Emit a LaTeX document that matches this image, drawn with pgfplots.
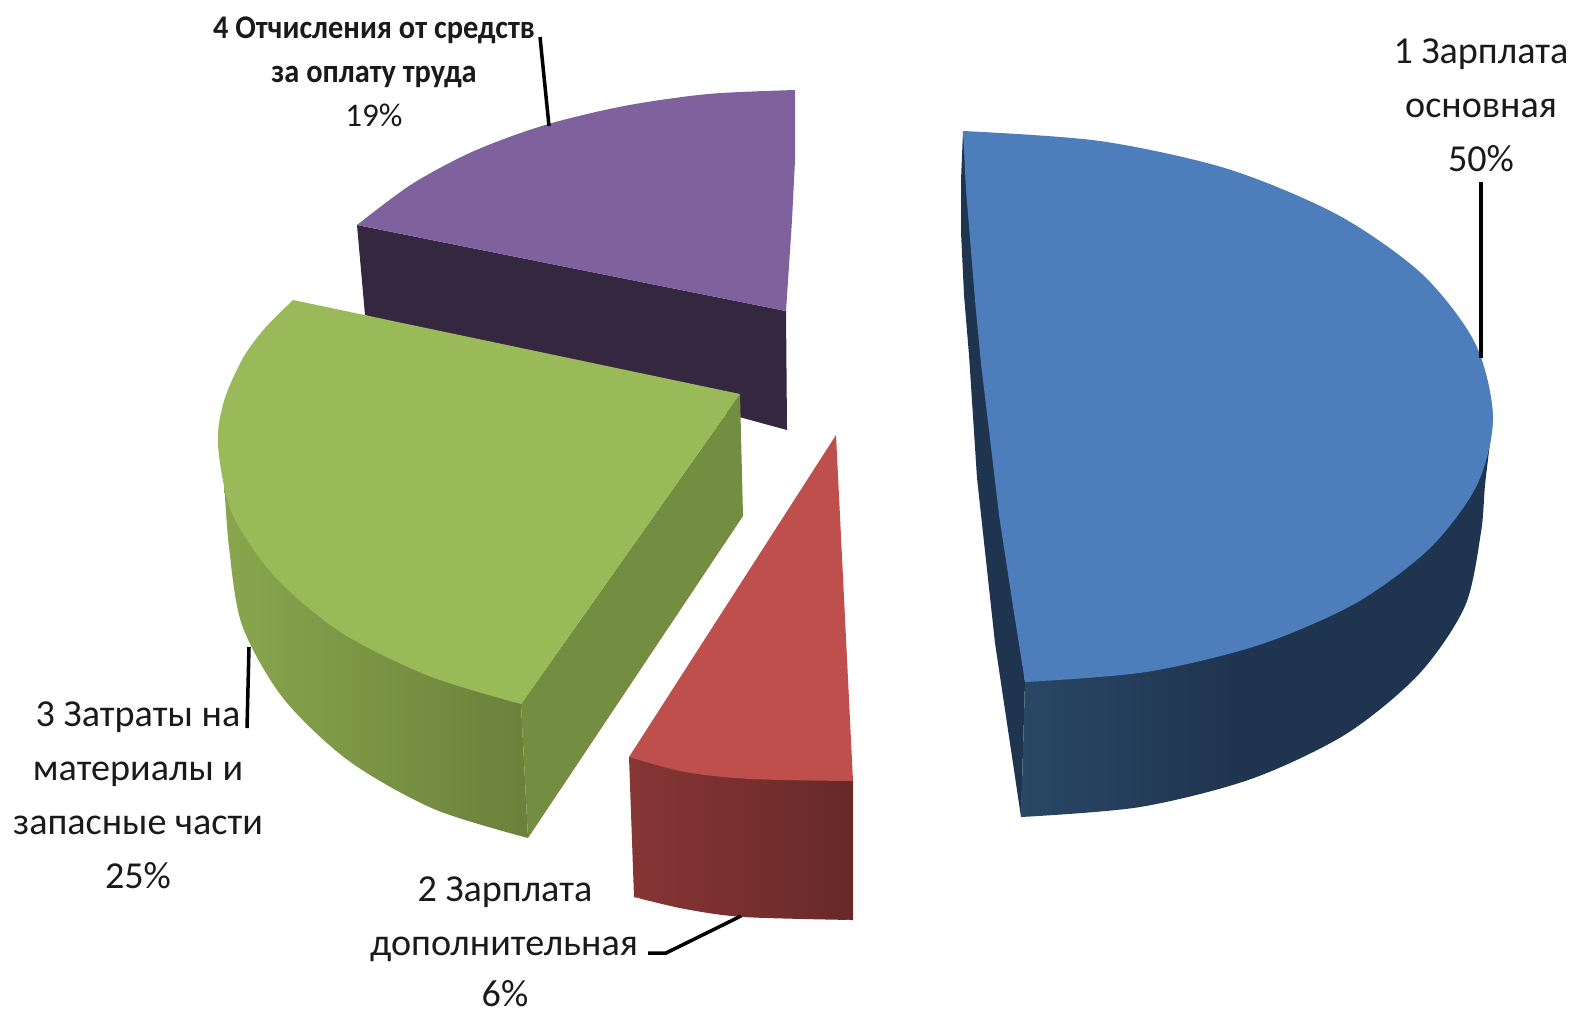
\documentclass[border=0pt]{standalone}
\usepackage{fontspec}
\setmainfont{Carlito}
\newfontfamily\narrowfont[FakeStretch=0.92]{Carlito}
\usepackage{pgfplots}
\pgfplotsset{compat=1.18}
\definecolor{blueTop}{HTML}{4D7EBB}
\definecolor{blueDark}{HTML}{1F344E}
\definecolor{blueLite}{HTML}{2A4767}
\definecolor{redTop}{HTML}{BE4F4C}
\definecolor{redLite}{HTML}{873535}
\definecolor{redDark}{HTML}{682929}
\definecolor{greenTop}{HTML}{9ABA59}
\definecolor{greenCut}{HTML}{748E41}
\definecolor{greenLite}{HTML}{89A64E}
\definecolor{greenDark}{HTML}{6A813A}
\definecolor{purpleTop}{HTML}{7F619E}
\definecolor{purpleDark}{HTML}{35273F}
\definecolor{txt}{HTML}{1A1A1A}
% darkest from about 45% of the width on
\pgfdeclarehorizontalshading{blueside}{100bp}{color(0bp)=(blueLite); color(25bp)=(blueLite); color(48bp)=(blueDark); color(100bp)=(blueDark)}
\pgfdeclarehorizontalshading{greenside}{100bp}{color(0bp)=(greenLite); color(25bp)=(greenLite); color(75bp)=(greenDark); color(100bp)=(greenDark)}
\pgfdeclarehorizontalshading{redside}{100bp}{color(0bp)=(redLite); color(25bp)=(redLite); color(75bp)=(redDark); color(100bp)=(redDark)}
\tikzset{
    lab/.style={font=\fontsize{10.85pt}{12pt}\selectfont, text=txt, anchor=base, inner sep=0pt},
    labsmall/.style={lab, font=\fontsize{9.4pt}{11pt}\narrowfont\selectfont\bfseries},
}
\begin{document}
\begin{tikzpicture}
\useasboundingbox (0,0) rectangle (15.74cm,10.12cm);
\begin{axis}[
    at={(0,0)}, anchor=south west,
    scale only axis,
    width=15.74cm, height=10.12cm,
    xmin=0, xmax=1574, ymin=0, ymax=1012,
    y dir=reverse,
    hide axis,
    clip=false,
    every axis plot/.append style={draw=none},
]
% purple slice, 19%
\addplot[fill=purpleDark] coordinates {(357,225)(365,315)(787,430)(786,311)};
\addplot[fill=purpleTop, smooth] coordinates {(795,90)(708,94)(624,106)(545,125)(474,151)(412,184)(357,225)};
\addplot[fill=purpleTop] coordinates {(795,90)(795,160)(792,220)(786,311)(357,225)(600,125)};
% green slice, 25%
\addplot[shading=greenside, smooth] coordinates {(224,480)(229,547)(242,625)(283,698)(349,761)(434,809)(528,838)};
\addplot[shading=greenside] coordinates {(224,480)(521,704)(528,838)(400,700)};
\addplot[fill=greenCut] coordinates {(740,394)(743,516)(528,838)(521,704)};
\addplot[fill=greenTop, smooth] coordinates {(293,300)(265,328)(243,358)(224,401)(218,445)(232,513)(275,577)(342,633)(429,676)(521,704)};
\addplot[fill=greenTop] coordinates {(293,300)(740,394)(521,704)(350,500)};
% red slice, 6%
\addplot[shading=redside, smooth] coordinates {(634,897)(685,909)(744,917)(853,920)};
\addplot[shading=redside] coordinates {(629,757)(634,897)(744,912)(853,920)(853,781)};
\addplot[fill=redTop, smooth] coordinates {(629,757)(685,772)(751,779)(853,781)};
\addplot[fill=redTop] coordinates {(836,435)(629,757)(751,775)(853,781)};
% blue slice, 50%
\addplot[fill=blueDark] coordinates {(963,131)(961,180)(961,232)(964,295)(969,355)(977,478)(995,643)(1021,817)(1025,682)};
\addplot[shading=blueside, smooth] coordinates {(1021,817)(1140,807)(1251,779)(1346,734)(1419,674)(1465,606)(1481,532)(1485,485)(1491,435)};
\addplot[shading=blueside] coordinates {(1021,817)(1025,682)(1491,435)(1300,700)};
\addplot[fill=blueTop, smooth] coordinates {(963,131)(1100,141)(1228,169)(1338,215)(1422,274)(1475,343)(1493,417)(1477,485)(1430,548)(1356,603)(1259,645)(1146,672)(1025,682)};
\addplot[fill=blueTop] coordinates {(1025,682)(1012,600)(999,515)(989,430)(981,364)(975,300)(971,251)(966,190)(963,131)(1250,400)};
% leader lines
\addplot[draw=black, line width=1pt] coordinates {(1481,182)(1481,358)};
\addplot[draw=black, line width=1pt] coordinates {(249,647)(247,728)};
\addplot[draw=black, line width=1pt] coordinates {(540,37)(549,126)};
\addplot[draw=black, line width=1pt] coordinates {(741,916)(666,953)(648,953)};
% labels
\node[lab] at (axis cs:1481,63) {1 Зарплата};
\node[lab] at (axis cs:1481,117) {основная};
\node[lab] at (axis cs:1481,171) {50\%};
\node[lab] at (axis cs:138,726) {3 Затраты на};
\node[lab] at (axis cs:138,780) {материалы и};
\node[lab] at (axis cs:138,834) {запасные части};
\node[lab] at (axis cs:138,888) {25\%};
\node[lab] at (axis cs:505,901) {2 Зарплата};
\node[lab] at (axis cs:504,955) {дополнительная};
\node[lab] at (axis cs:505,1006) {6\%};
\node[labsmall] at (axis cs:374,38) {4 Отчисления от средств};
\node[labsmall] at (axis cs:374,82) {за оплату труда};
\node[lab, font=\fontsize{9.4pt}{11pt}\selectfont] at (axis cs:374,126) {19\%};
\end{axis}
\end{tikzpicture}
\end{document}
